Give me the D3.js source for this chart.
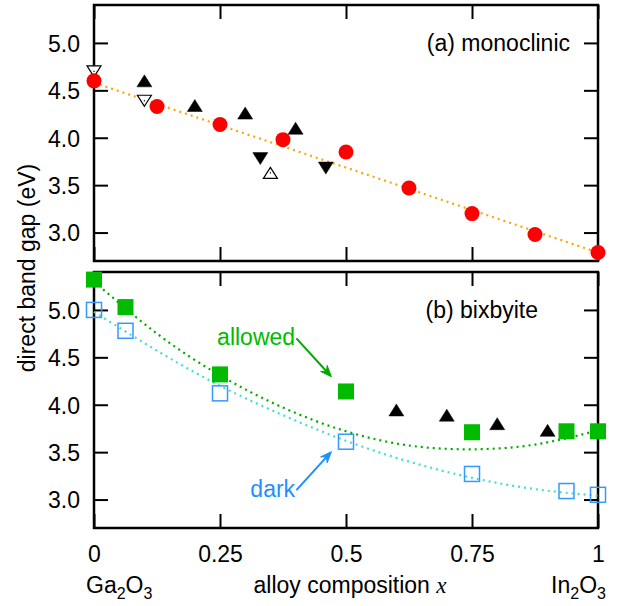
<!DOCTYPE html>
<html>
<head>
<meta charset="utf-8">
<script src="https://cdn.jsdelivr.net/npm/d3@7"></script>
<style>
  body { margin: 0; background: #fff; }
  svg text { font-family: "Liberation Sans", Arial, Helvetica, sans-serif; }
</style>
</head>
<body>
<svg id="chart" width="619" height="606"></svg>
<script>
// composition ticks
const xTicks = [0, 0.25, 0.5, 0.75, 1];
const xTickLabels = ["0", "0.25", "0.5", "0.75", "1"];
const yTicks = [3.0, 3.5, 4.0, 4.5, 5.0];

// (a) monoclinic - calculated gaps
const monoX = [0, 0.125, 0.25, 0.375, 0.5, 0.625, 0.75, 0.875, 1];
const monoGap = [4.60, 4.33, 4.14, 3.98, 3.85, 3.47, 3.20, 2.98, 2.79];
const monoFitX = [0, 1];
const monoFitGap = [4.58, 2.79];
// experimental points, monoclinic
const monoUpX = [0.10, 0.20, 0.30, 0.40];
const monoUpGap = [4.60, 4.34, 4.26, 4.10];
const monoDownX = [0.33, 0.46];
const monoDownGap = [3.78, 3.68];
const monoOpenDownX = [0, 0.10];
const monoOpenDownGap = [4.70, 4.39];
const monoOpenUpX = [0.35];
const monoOpenUpGap = [3.63];

// (b) bixbyite
const bixX = [0, 0.0625, 0.25, 0.5, 0.75, 0.9375, 1];
const bixAllowed = [5.32, 5.03, 4.32, 4.14, 3.71, 3.72, 3.72];
const bixDark = [5.00, 4.78, 4.12, 3.61, 3.27, 3.09, 3.05];
const bixFitX = [0, 0.125, 0.25, 0.375, 0.5, 0.625, 0.75, 0.875, 1];
const bixAllowedFit = [5.30, 4.75, 4.31, 3.97, 3.72, 3.57, 3.53, 3.58, 3.73];
const bixDarkFit = [4.98, 4.57, 4.20, 3.89, 3.62, 3.40, 3.23, 3.11, 3.04];
const bixUpX = [0.60, 0.70, 0.80, 0.90];
const bixUpGap = [3.945, 3.89, 3.80, 3.73];

const svg = d3.select("#chart");
const margin = { left: 94, right: 21 };
const width = 619 - margin.left - margin.right;
const panelH = 256;
const panels = [{ top: 5 }, { top: 272 }];
const fs = "23px";

const x = d3.scaleLinear().domain([0, 1]).range([0, width]);

function makePanel(top, showXLabels) {
    const g = svg.append("g").attr("transform", `translate(${margin.left},${top})`);
    const y = d3.scaleLinear().domain([2.7, 5.4]).range([panelH, 0]);

    const axL = g.append("g")
        .call(d3.axisLeft(y).tickValues(yTicks).tickSize(-14).tickPadding(14).tickFormat(d3.format(".1f")));
    axL.selectAll("text").style("font-size", fs).attr("fill", "#000").attr("dy", "0.36em");
    g.append("g").attr("transform", `translate(${width},0)`)
        .call(d3.axisRight(y).tickValues(yTicks).tickSize(-14).tickFormat(""));
    g.append("g")
        .call(d3.axisTop(x).tickValues(xTicks).tickSize(-14).tickFormat(""));
    const axB = g.append("g").attr("transform", `translate(0,${panelH})`)
        .call(d3.axisBottom(x).tickValues(xTicks).tickSize(-14).tickPadding(18)
            .tickFormat((d, i) => showXLabels ? xTickLabels[i] : ""));
    axB.selectAll("text").style("font-size", fs).attr("fill", "#000");

    g.selectAll(".domain").remove();
    g.selectAll(".tick line").attr("stroke", "#000").attr("stroke-width", 2);

    g.append("rect")
        .attr("width", width).attr("height", panelH)
        .attr("fill", "none").attr("stroke", "#000").attr("stroke-width", 2.5);
    return { g, y };
}

function triPath(up, w, h) {
    return up
        ? `M0,${-h / 2}L${w / 2},${h / 2}L${-w / 2},${h / 2}Z`
        : `M0,${h / 2}L${w / 2},${-h / 2}L${-w / 2},${-h / 2}Z`;
}

function drawTriangles(g, y, xs, ys, up, open) {
    const pts = xs.map((d, i) => [d, ys[i]]);
    const sel = g.append("g").selectAll("g").data(pts).enter().append("g")
        .attr("transform", d => `translate(${x(d[0])},${y(d[1])})`);
    sel.append("path")
        .attr("d", triPath(up, open ? 14 : 15, open ? 11 : 12))
        .attr("fill", open ? "#fff" : "#000")
        .attr("stroke", "#000").attr("stroke-width", open ? 1.2 : 0.5);
    if (open) {
        sel.append("rect").attr("x", -0.6).attr("y", -0.6).attr("width", 1.2).attr("height", 1.2).attr("fill", "#000");
    }
}

function dotted(g, y, xs, ys, color, curve) {
    const line = d3.line().x(d => x(d[0])).y(d => y(d[1])).curve(curve);
    g.append("path")
        .datum(xs.map((d, i) => [d, ys[i]]))
        .attr("d", line)
        .attr("fill", "none").attr("stroke", color)
        .attr("stroke-width", 2.2).attr("stroke-dasharray", "2,4");
}

// ---- panel (a)
const a = makePanel(panels[0].top, false);
dotted(a.g, a.y, monoFitX, monoFitGap, "#ffa500", d3.curveLinear);
drawTriangles(a.g, a.y, monoOpenDownX, monoOpenDownGap, false, true);
drawTriangles(a.g, a.y, monoOpenUpX, monoOpenUpGap, true, true);
drawTriangles(a.g, a.y, monoUpX, monoUpGap, true, false);
drawTriangles(a.g, a.y, monoDownX, monoDownGap, false, false);
a.g.append("g").selectAll("circle").data(monoX).enter().append("circle")
    .attr("cx", d => x(d)).attr("cy", (d, i) => a.y(monoGap[i]))
    .attr("r", 7.5).attr("fill", "#ff0000");
a.g.append("text").attr("x", 476).attr("y", 46)
    .attr("text-anchor", "end").style("font-size", fs).text("(a) monoclinic");

// ---- panel (b)
const b = makePanel(panels[1].top, true);
dotted(b.g, b.y, bixFitX, bixDarkFit, "#40e0d0", d3.curveNatural);
dotted(b.g, b.y, bixFitX, bixAllowedFit, "#00aa00", d3.curveNatural);
drawTriangles(b.g, b.y, bixUpX, bixUpGap, true, false);
b.g.append("g").selectAll("rect").data(bixX).enter().append("rect")
    .attr("x", d => x(d) - 8).attr("y", (d, i) => b.y(bixAllowed[i]) - 8)
    .attr("width", 16).attr("height", 16).attr("fill", "#00bb00");
b.g.append("g").selectAll("rect").data(bixX).enter().append("rect")
    .attr("x", d => x(d) - 7.5).attr("y", (d, i) => b.y(bixDark[i]) - 7.5)
    .attr("width", 15).attr("height", 15)
    .attr("fill", "none").attr("stroke", "#3399ff").attr("stroke-width", 1.5);
b.g.append("text").attr("x", 444).attr("y", 46)
    .attr("text-anchor", "end").style("font-size", fs).text("(b) bixbyite");

// annotations
function arrow(g, y, from, to, color) {
    const x1 = x(from[0]), y1 = y(from[1]), x2 = x(to[0]), y2 = y(to[1]);
    const ang = Math.atan2(y2 - y1, x2 - x1);
    const L = 12, W = 0.38;
    g.append("line").attr("x1", x1).attr("y1", y1)
        .attr("x2", x2 - 4 * Math.cos(ang)).attr("y2", y2 - 4 * Math.sin(ang))
        .attr("stroke", color).attr("stroke-width", 2);
    const p1 = [x2 - L * Math.cos(ang - W), y2 - L * Math.sin(ang - W)];
    const p2 = [x2 - L * Math.cos(ang + W), y2 - L * Math.sin(ang + W)];
    const pm = [x2 - 0.6 * L * Math.cos(ang), y2 - 0.6 * L * Math.sin(ang)];
    g.append("path")
        .attr("d", `M${x2},${y2}L${p1[0]},${p1[1]}L${pm[0]},${pm[1]}L${p2[0]},${p2[1]}Z`)
        .attr("fill", color).attr("stroke", color).attr("stroke-width", 1);
}

b.g.append("text").attr("x", x(0.399)).attr("y", b.y(4.63))
    .attr("text-anchor", "end").attr("fill", "#00bb00").style("font-size", fs).text("allowed");
arrow(b.g, b.y, [0.4016, 4.70], [0.471, 4.296], "#00aa00");
b.g.append("text").attr("x", x(0.399)).attr("y", b.y(3.03))
    .attr("text-anchor", "end").attr("fill", "#1e8fff").style("font-size", fs).text("dark");
arrow(b.g, b.y, [0.4016, 3.10], [0.471, 3.505], "#1e8fff");

// axis titles
const ga = svg.append("text").attr("x", 86).attr("y", 593).style("font-size", fs);
ga.append("tspan").text("Ga");
ga.append("tspan").attr("dy", 6).style("font-size", "16px").text("2");
ga.append("tspan").attr("dy", -6).text("O");
ga.append("tspan").attr("dy", 6).style("font-size", "16px").text("3");

const inn = svg.append("text").attr("x", 606).attr("y", 593).attr("text-anchor", "end").style("font-size", fs);
inn.append("tspan").text("In");
inn.append("tspan").attr("dy", 6).style("font-size", "16px").text("2");
inn.append("tspan").attr("dy", -6).text("O");
inn.append("tspan").attr("dy", 6).style("font-size", "16px").text("3");

const xt = svg.append("text").attr("x", 350).attr("y", 593).attr("text-anchor", "middle").style("font-size", fs);
xt.append("tspan").text("alloy composition ");
xt.append("tspan").style("font-family", "'Liberation Serif', 'Times New Roman', serif")
    .style("font-style", "italic").text("x");

svg.append("text")
    .attr("transform", "translate(35,268) rotate(-90)")
    .attr("text-anchor", "middle").style("font-size", fs)
    .text("direct band gap (eV)");
</script>
</body>
</html>
